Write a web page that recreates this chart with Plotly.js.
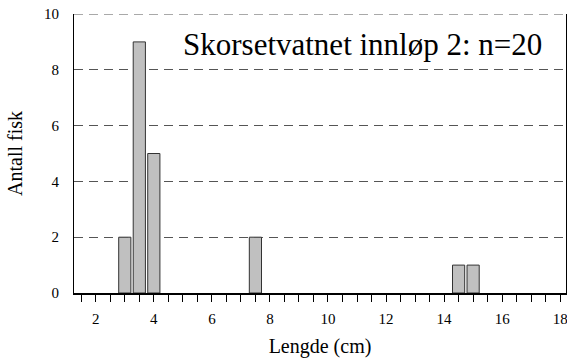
<!DOCTYPE html>
<html>
<head>
<meta charset="utf-8">
<script src="https://cdn.plot.ly/plotly-3.0.1.min.js"></script>
<style>
  html, body { margin: 0; padding: 0; background: #fff; }
  #chart { width: 567px; height: 358px; }
</style>
</head>
<body>
<div id="chart"></div>
<script>
// Length distribution of fish caught at Skorsetvatnet, inlet 2
const lengthCm = [3, 3.5, 4, 7.5, 14.5, 15];
const fishCount = [2, 9, 5, 2, 1, 1];
const yTicks = [0, 2, 4, 6, 8, 10];
const xTicks = [2, 4, 6, 8, 10, 12, 14, 16, 18];

const serif = '"Liberation Serif", "Times New Roman", serif';
const yMax = 10;

const trace = {
  type: 'bar',
  x: lengthCm,
  y: fishCount,
  width: 0.42,
  marker: { color: '#c0c0c0', line: { color: '#333', width: 1 } },
  hoverinfo: 'x+y'
};

const layout = {
  width: 567,
  height: 358,
  margin: { l: 74, r: 1, t: 14, b: 65 },
  paper_bgcolor: '#fff',
  plot_bgcolor: '#fff',
  font: { family: serif, color: '#000', size: 15 },
  showlegend: false,
  xaxis: {
    range: [1.25, 18.2],
    tickvals: xTicks,
    ticks: 'outside',
    ticklen: 7,
    tickcolor: '#000',
    tickwidth: 1,
    minor: { dtick: 0.5, tick0: 0, ticks: 'outside', ticklen: 7, tickcolor: '#000', tickwidth: 1 },
    showgrid: false,
    showline: true,
    linecolor: '#000',
    linewidth: 1.5,
    zeroline: false,
    ticklabelstandoff: 4,
    ticklabeloverflow: 'allow',
    tickfont: { family: serif, size: 15 },
    title: { text: 'Lengde (cm)', font: { family: serif, size: 20 }, standoff: 15 }
  },
  yaxis: {
    range: [0, yMax],
    tickvals: yTicks,
    ticks: '',
    showgrid: true,
    gridcolor: '#555',
    gridwidth: 1,
    griddash: '9px,6px',
    showline: true,
    mirror: true,
    linecolor: '#000',
    linewidth: 1,
    zeroline: false,
    ticklabelstandoff: 11,
    tickfont: { family: serif, size: 15 },
    title: { text: 'Antall fisk', font: { family: serif, size: 20 }, standoff: 16 }
  },
  // dashed gridline along the top of the plot (at the top of the y range)
  shapes: [{
    type: 'line', xref: 'paper', yref: 'y',
    x0: 0, x1: 1, y0: yMax, y1: yMax,
    line: { color: '#555', width: 1, dash: '9px,6px' }
  }],
  annotations: [{
    text: 'Skorsetvatnet innløp 2: n=20',
    xref: 'paper', yref: 'paper',
    x: 0.218, y: 0.89,
    xanchor: 'left', yanchor: 'middle',
    showarrow: false,
    font: { family: serif, size: 31, color: '#000' },
    bgcolor: '#fff'
  }]
};

Plotly.newPlot('chart', [trace], layout, { displayModeBar: false, staticPlot: true });
</script>
</body>
</html>
